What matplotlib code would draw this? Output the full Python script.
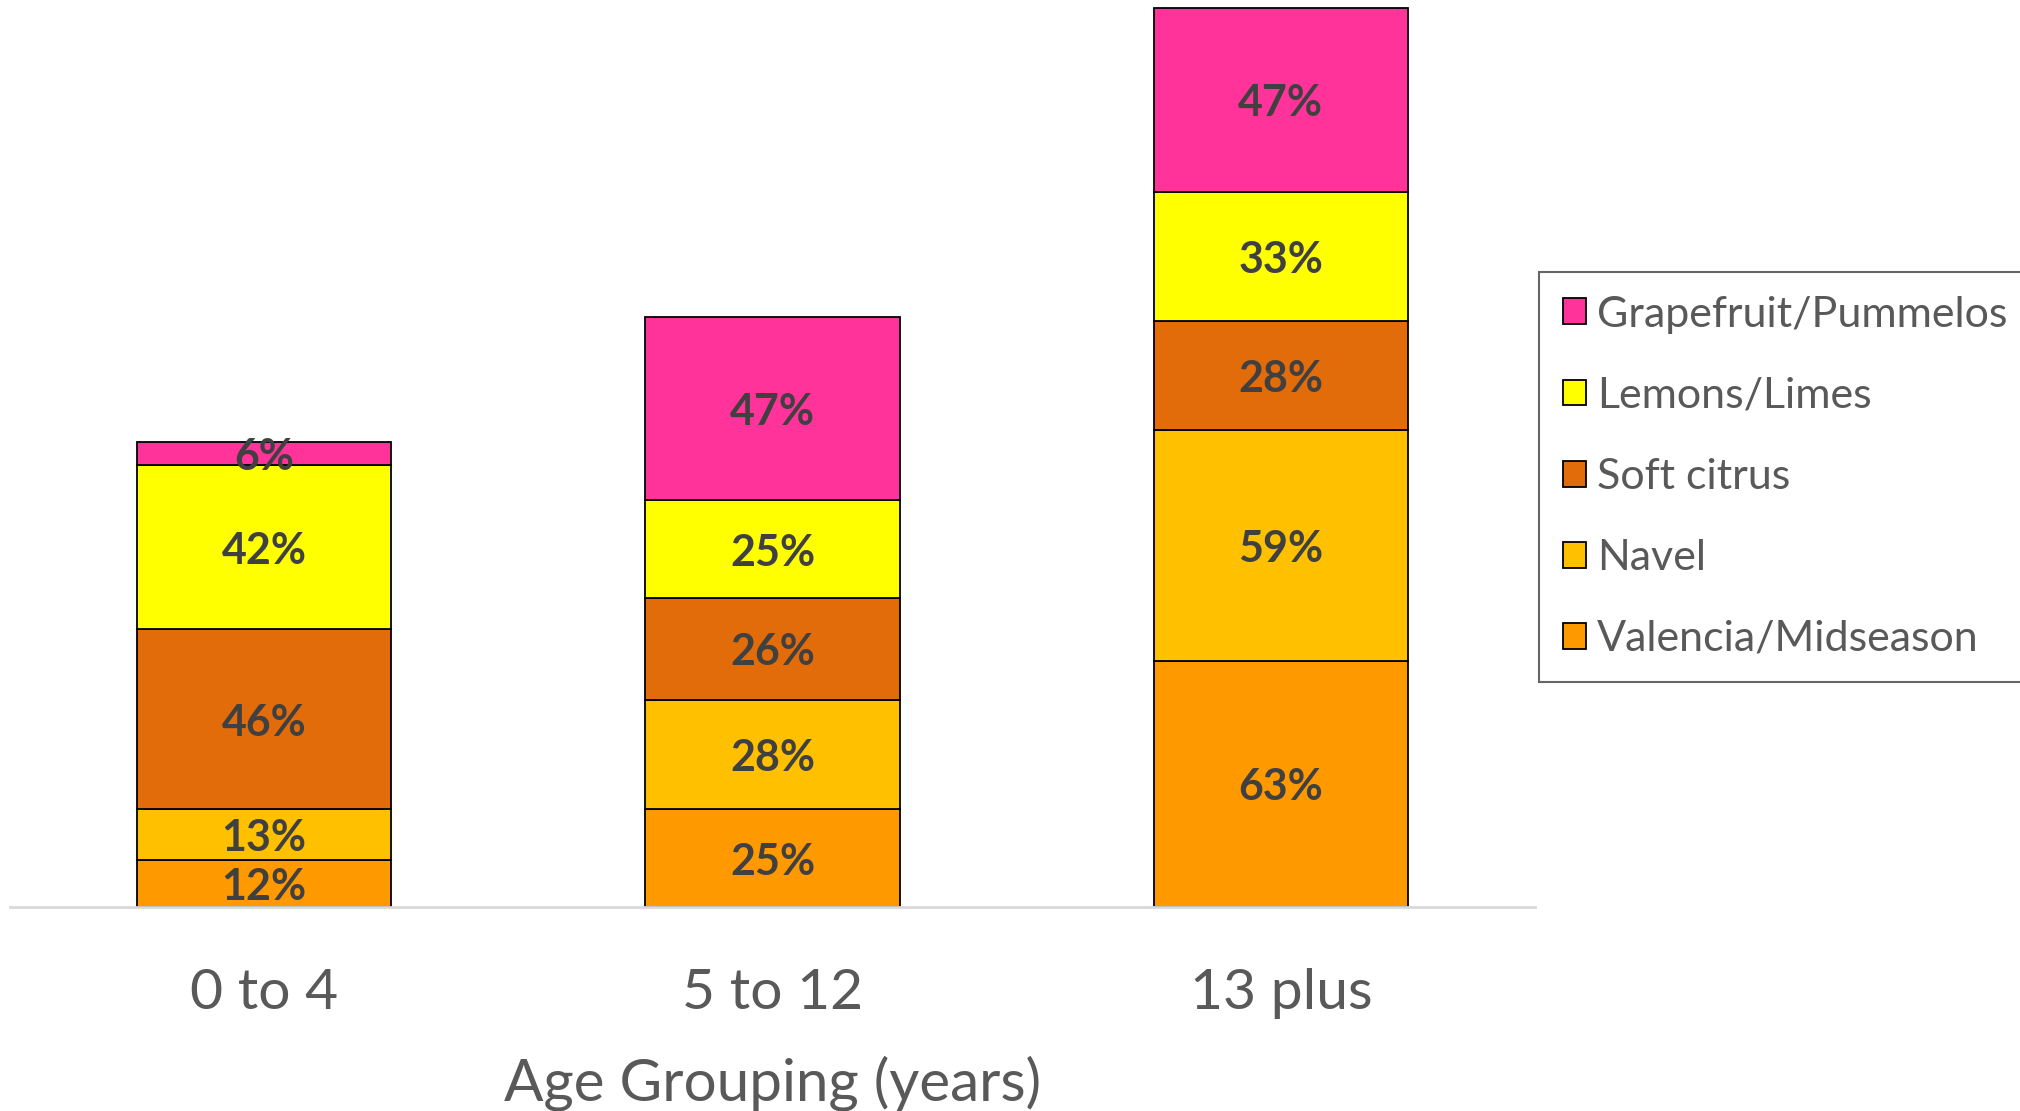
import matplotlib.pyplot as plt
import numpy as np

# ── Data ──────────────────────────────────────────────────────────────────────
age_groups = ['0 to 4', '5 to 12', '13 plus']
series_names = ['Valencia/Midseason', 'Navel', 'Soft citrus', 'Lemons/Limes', 'Grapefruit/Pummelos']
valencia  = [12, 25, 63]
navel     = [13, 28, 59]
soft      = [46, 26, 28]
lemons    = [42, 25, 33]
grapefruit = [6, 47, 47]
series_values = [valencia, navel, soft, lemons, grapefruit]
series_colors = ['#FF9900', '#FFC000', '#E36C0A', '#FFFF00', '#FF3399']

plt.rcParams['font.family'] = ['Lato', 'DejaVu Sans']

fig = plt.figure(figsize=(20.2, 11.11), dpi=100)
# axes spans from the baseline up to the very top edge of the figure
ax = fig.add_axes([10 / 2020, 1 - 907 / 1111, 1525 / 2020, 907 / 1111])

x = np.arange(len(age_groups))
bottom = np.zeros(len(age_groups))
handles = []
for name, vals, color in zip(series_names, series_values, series_colors):
    vals = np.array(vals, dtype=float)
    bars = ax.bar(x, vals, 0.5, bottom=bottom, color=color, edgecolor='black',
                  linewidth=1.3, label=name)
    handles.append(bars)
    for xi, b, v in zip(x, bottom, vals):
        ax.text(xi, b + v / 2, f'{int(v)}%', ha='center', va='center_baseline',
                fontsize=31, fontweight='bold', color='#404040')
    bottom += vals

ax.set_xlim(-0.5, 2.5)
ax.set_ylim(0, 232)
ax.set_yticks([])
for side in ['left', 'right', 'top']:
    ax.spines[side].set_visible(False)
ax.spines['bottom'].set_color('#D9D9D9')
ax.spines['bottom'].set_linewidth(2)
ax.set_xticks(x)
ax.set_xticklabels(age_groups, fontsize=41, color='#595959')
ax.tick_params(axis='x', length=0, pad=44)
ax.set_xlabel('Age Grouping (years)', fontsize=42, color='#595959', labelpad=26)

leg = fig.legend(handles[::-1], series_names[::-1], loc='upper left',
                 bbox_to_anchor=(1539 / 2020, 1 - 272 / 1111),
                 fontsize=31, frameon=True, fancybox=False, edgecolor='#404040',
                 handlelength=0.55, handleheight=0.55, handletextpad=0.25,
                 labelspacing=1.0, borderpad=0.55, borderaxespad=0)
leg.get_frame().set_linewidth(1.5)
for t in leg.get_texts():
    t.set_color('#595959')

fig.savefig('out.png', dpi=100)
